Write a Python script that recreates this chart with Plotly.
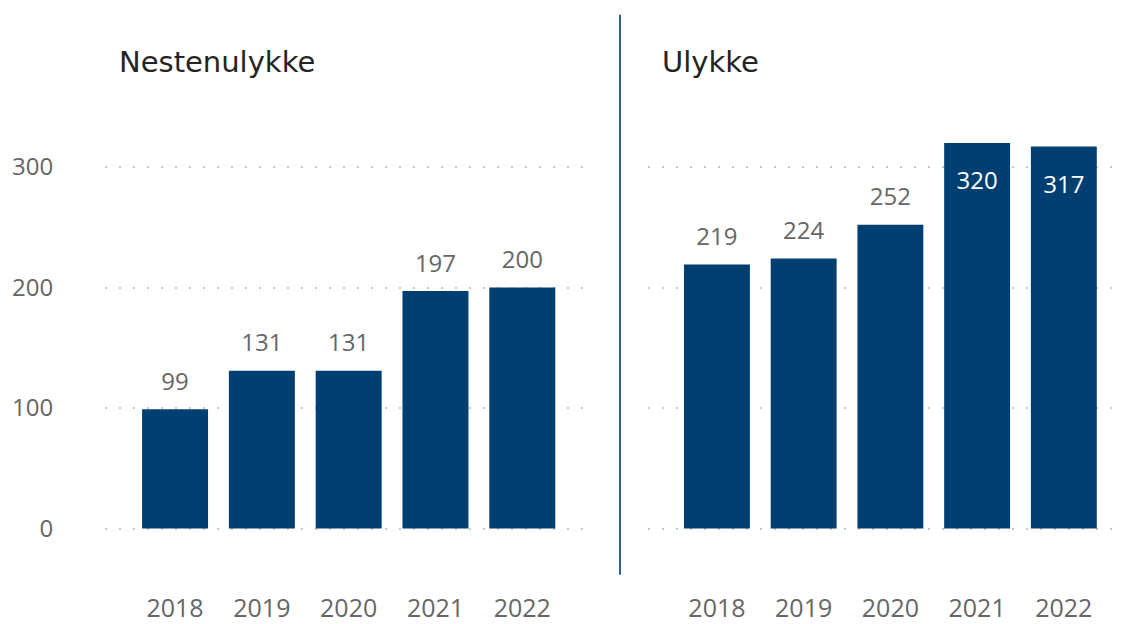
import plotly.graph_objects as go

years = ["2018", "2019", "2020", "2021", "2022"]
nestenulykke = [99, 131, 131, 197, 200]
ulykke = [219, 224, 252, 320, 317]
titles = ["Nestenulykke", "Ulykke"]
y_ticks = [0, 100, 200, 300]

BAR = "#003F72"
GRAY = "#666666"
W, H = 1123, 624

def px_x(p):
    return p / W

def px_y(p):
    return 1 - p / H

fig = go.Figure()
for vals, xa, ya in [(nestenulykke, "x", "y"), (ulykke, "x2", "y2")]:
    fig.add_trace(go.Bar(
        x=years, y=vals, xaxis=xa, yaxis=ya,
        marker=dict(color=BAR, line=dict(width=0)),
        showlegend=False, hoverinfo="skip",
    ))
    inside = [v >= 300 for v in vals]
    fig.add_trace(go.Scatter(
        x=years, y=vals, xaxis=xa, yaxis=ya, mode="markers+text",
        text=[str(v) for v in vals],
        textposition=["bottom center" if i else "top center" for i in inside],
        textfont=dict(size=24, family="Open Sans",
                      color=["white" if i else GRAY for i in inside]),
        marker=dict(size=[44 if i else 20 for i in inside], opacity=0),
        cliponaxis=False, showlegend=False, hoverinfo="skip",
    ))

# y range chosen so that 0 and 300 land on the reference gridline rows
y_top_px, y_bot_px, y0_px, y300_px = 130, 560, 538, 170
upp = 300 / (y0_px - y300_px)
yrange = [-(y_bot_px - y0_px) * upp, (y0_px - y_top_px) * upp]
ydom = [px_y(y_bot_px), px_y(y_top_px)]
common_y = dict(range=yrange, domain=ydom, showgrid=True, gridcolor="#C8C8C8",
                griddash="2px,12px", gridwidth=1.5, zeroline=False, showline=False,
                tickvals=y_ticks, fixedrange=True)
common_x = dict(type="category", showgrid=False, zeroline=False, showline=False,
                ticks="outside", ticklen=36, tickcolor="rgba(0,0,0,0)",
                tickfont=dict(size=25, color=GRAY, family="Open Sans"))

fig.update_layout(
    width=W, height=H, autosize=False, margin=dict(l=0, r=0, t=0, b=0),
    paper_bgcolor="white", plot_bgcolor="white", bargap=0.24,
    xaxis=dict(common_x, domain=[px_x(105), px_x(590)], range=[-0.807, 4.78]),
    xaxis2=dict(common_x, domain=[px_x(648), px_x(1115)], range=[-0.795, 4.59]),
    yaxis=dict(common_y, anchor="x", ticks="outside", ticklen=46,
               tickcolor="rgba(0,0,0,0)",
               tickfont=dict(size=24, color=GRAY, family="Open Sans")),
    yaxis2=dict(common_y, anchor="x2", showticklabels=False),
)

for t, xp in zip(titles, [119, 662]):
    fig.add_annotation(text=t, x=px_x(xp), y=px_y(63), xref="paper", yref="paper",
                       xanchor="left", yanchor="middle", showarrow=False, xshift=-2,
                       font=dict(size=29, color="#252423", family="DejaVu Sans"))

fig.add_shape(type="line", xref="paper", yref="paper",
              x0=px_x(620), x1=px_x(620), y0=px_y(15), y1=px_y(585),
              line=dict(color="#2F5F94", width=2))

pin = ("var d=document.getElementById('{plot_id}');"
       "d.style.position='fixed';d.style.top='0px';d.style.left='0px';"
       "document.body.style.margin='0px';document.body.style.overflow='hidden';")
fig.write_html("out.html", config={"displayModeBar": False, "responsive": False},
               post_script=pin)
